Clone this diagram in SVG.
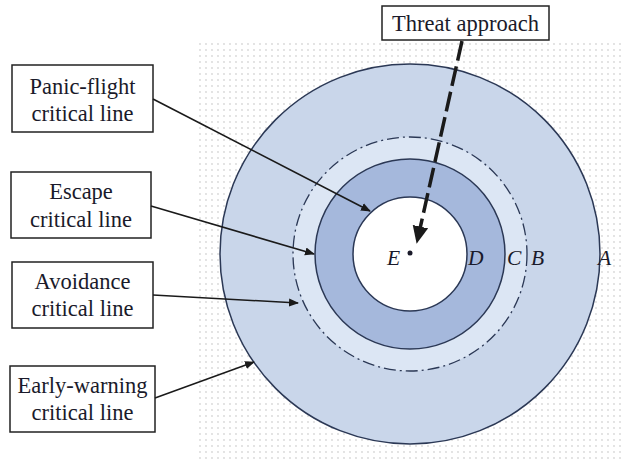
<svg xmlns="http://www.w3.org/2000/svg" width="621" height="459" viewBox="0 0 621 459">
<defs>
<pattern id="dots" x="0" y="0" width="6" height="6" patternUnits="userSpaceOnUse">
<circle cx="2" cy="2" r="0.65" fill="#b0b0b0"/>
</pattern>
<marker id="ah" viewBox="0 0 10 10" refX="9" refY="5" markerWidth="10" markerHeight="10" markerUnits="userSpaceOnUse" orient="auto">
<path d="M0,1 L10,5 L0,9 Z" fill="#1a1a1a"/>
</marker>
<marker id="ahb" viewBox="0 0 10 10" refX="9" refY="5" markerWidth="5" markerHeight="5" orient="auto">
<path d="M0,0.5 L10,5 L0,9.5 Z" fill="#1a1a1a"/>
</marker>
</defs>
<style>
.box{fill:#fff;stroke:#222;stroke-width:1.5}
.t{font-family:"Liberation Serif",serif;font-size:22.5px;fill:#1a1a2a;text-anchor:middle}
.lbl{font-family:"Liberation Serif",serif;font-size:21.5px;font-style:italic;fill:#1a1a2a}
.ring{stroke:#2b3855;stroke-width:1.5}
.con{stroke:#1a1a1a;stroke-width:1.6;fill:none;marker-end:url(#ah)}
</style>
<rect width="621" height="459" fill="#fff"/>
<rect x="196" y="42" width="425" height="417" fill="url(#dots)"/>
<g id="circles">
<circle id="A" cx="410" cy="254" r="190" fill="#c9d6ea" class="ring"/>
<circle id="B" cx="410" cy="254" r="117" fill="#dce6f4" stroke="#2b3855" stroke-width="1.3" stroke-dasharray="12,4,2,4"/>
<circle id="C" cx="410" cy="254" r="95" fill="#a5b8dc" class="ring"/>
<circle id="D" cx="410" cy="254" r="57" fill="#fff" class="ring"/>
<circle id="E" cx="410" cy="253" r="2.5" fill="#1a1a2a"/>
</g>
<g id="labels">
<text class="lbl" x="387" y="265">E</text>
<text class="lbl" x="468" y="265">D</text>
<text class="lbl" x="507" y="265">C</text>
<text class="lbl" x="531" y="265">B</text>
<text class="lbl" x="598" y="265">A</text>
</g>
<g id="threat">
<rect class="box" x="382" y="6" width="167" height="34"/>
<text class="t" x="465.5" y="31">Threat approach</text>
</g>
<g id="panic">
<rect class="box" x="12" y="65" width="141" height="67"/>
<text class="t" x="82.5" y="94">Panic-flight</text>
<text class="t" x="82.5" y="121">critical line</text>
</g>
<g id="escape">
<rect class="box" x="11" y="172" width="140" height="66"/>
<text class="t" x="81" y="199">Escape</text>
<text class="t" x="81" y="227">critical line</text>
</g>
<g id="avoidance">
<rect class="box" x="12" y="262" width="141" height="66"/>
<text class="t" x="82.5" y="289">Avoidance</text>
<text class="t" x="82.5" y="316">critical line</text>
</g>
<g id="earlywarning">
<rect class="box" x="10" y="366" width="145" height="66"/>
<text class="t" x="82.5" y="393">Early-warning</text>
<text class="t" x="82.5" y="420">critical line</text>
</g>
<g id="connectors">
<line class="con" x1="153" y1="99" x2="370" y2="211"/>
<line class="con" x1="151" y1="206" x2="314" y2="254"/>
<line class="con" x1="153" y1="295" x2="298" y2="303"/>
<line class="con" x1="155" y1="398" x2="254" y2="362"/>
<line x1="462" y1="41" x2="417" y2="242" stroke="#1a1a1a" stroke-width="3.5" stroke-dasharray="20,6" marker-end="url(#ahb)"/>
</g>
</svg>
